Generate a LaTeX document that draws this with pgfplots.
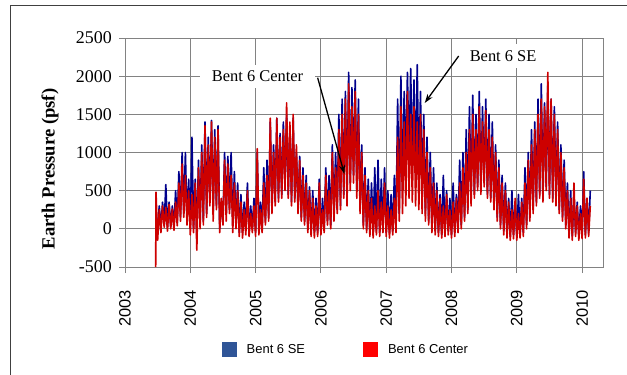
\documentclass[border=0pt]{standalone}
\usepackage{fontspec}
\setmainfont{Liberation Serif}
\newfontfamily\arialfont{Liberation Sans}
\usepackage{pgfplots}
\usepackage{pgfplotstable}
\pgfplotsset{compat=1.18}
\usetikzlibrary{arrows.meta}
\definecolor{seblue}{RGB}{0,0,140}
\definecolor{cenred}{RGB}{205,0,0}
\definecolor{legblue}{RGB}{47,85,151}
\definecolor{legred}{RGB}{255,0,0}
\definecolor{gridgray}{RGB}{130,130,130}
\definecolor{framegray}{RGB}{64,64,64}

\pgfplotstableread[row sep=\\]{x y\\
2003.470 -500\\ 2003.475 480\\ 2003.500 -150\\ 2003.525 250\\ 2003.550 -50\\ 2003.575 300\\ 2003.600 20\\ 2003.625 280\\
2003.650 -30\\ 2003.675 320\\ 2003.700 0\\ 2003.725 260\\ 2003.750 -20\\ 2003.775 350\\ 2003.800 40\\ 2003.825 600\\
2003.850 100\\ 2003.875 850\\ 2003.900 150\\ 2003.925 700\\ 2003.950 50\\ 2003.975 500\\ 2004.000 -80\\ 2004.025 450\\
2004.050 -50\\ 2004.075 600\\ 2004.100 -280\\ 2004.125 800\\ 2004.150 0\\ 2004.175 1000\\ 2004.200 50\\ 2004.225 1350\\
2004.250 150\\ 2004.275 1100\\ 2004.300 300\\ 2004.325 1400\\ 2004.350 100\\ 2004.375 1200\\ 2004.400 250\\ 2004.425 1300\\
2004.450 -50\\ 2004.475 400\\ 2004.500 50\\ 2004.525 900\\ 2004.550 100\\ 2004.575 850\\ 2004.600 200\\ 2004.625 700\\
2004.650 -50\\ 2004.675 600\\ 2004.700 0\\ 2004.725 500\\ 2004.750 -100\\ 2004.775 350\\ 2004.800 -120\\ 2004.825 250\\
2004.850 -80\\ 2004.875 500\\ 2004.900 -100\\ 2004.925 200\\ 2004.950 -50\\ 2004.975 300\\ 2005.000 -100\\ 2005.025 1050\\
2005.050 -80\\ 2005.075 250\\ 2005.100 -50\\ 2005.125 600\\ 2005.150 50\\ 2005.175 700\\ 2005.200 100\\ 2005.225 1450\\
2005.250 200\\ 2005.275 1000\\ 2005.300 300\\ 2005.325 1450\\ 2005.350 350\\ 2005.375 1200\\ 2005.400 400\\ 2005.425 1300\\
2005.450 500\\ 2005.475 1650\\ 2005.500 400\\ 2005.525 1400\\ 2005.550 300\\ 2005.575 1500\\ 2005.600 350\\ 2005.625 1100\\
2005.650 200\\ 2005.675 900\\ 2005.700 100\\ 2005.725 700\\ 2005.750 50\\ 2005.775 600\\ 2005.800 -50\\ 2005.825 500\\
2005.850 -100\\ 2005.875 400\\ 2005.900 -120\\ 2005.925 300\\ 2005.950 -100\\ 2005.975 600\\ 2006.000 -80\\ 2006.025 250\\
2006.050 -50\\ 2006.075 700\\ 2006.100 50\\ 2006.125 500\\ 2006.150 0\\ 2006.175 1000\\ 2006.200 100\\ 2006.225 800\\
2006.250 200\\ 2006.275 1300\\ 2006.300 250\\ 2006.325 1500\\ 2006.350 400\\ 2006.375 1700\\ 2006.400 300\\ 2006.425 1900\\
2006.450 500\\ 2006.475 1600\\ 2006.500 600\\ 2006.525 1800\\ 2006.550 400\\ 2006.575 1500\\ 2006.600 200\\ 2006.625 1000\\
2006.650 0\\ 2006.675 700\\ 2006.700 -50\\ 2006.725 500\\ 2006.750 -100\\ 2006.775 400\\ 2006.800 -120\\ 2006.825 300\\
2006.850 -80\\ 2006.875 500\\ 2006.900 -100\\ 2006.925 350\\ 2006.950 -50\\ 2006.975 600\\ 2007.000 -100\\ 2007.025 300\\
2007.050 -120\\ 2007.075 250\\ 2007.100 -80\\ 2007.125 400\\ 2007.150 -50\\ 2007.175 1200\\ 2007.200 100\\ 2007.225 1600\\
2007.250 200\\ 2007.275 1400\\ 2007.300 300\\ 2007.325 1800\\ 2007.350 400\\ 2007.375 1500\\ 2007.400 350\\ 2007.425 1600\\
2007.450 300\\ 2007.475 1400\\ 2007.500 250\\ 2007.525 1500\\ 2007.550 200\\ 2007.575 1300\\ 2007.600 100\\ 2007.625 1000\\
2007.650 50\\ 2007.675 800\\ 2007.700 -50\\ 2007.725 600\\ 2007.750 -80\\ 2007.775 500\\ 2007.800 -100\\ 2007.825 400\\
2007.850 -120\\ 2007.875 300\\ 2007.900 -100\\ 2007.925 450\\ 2007.950 -80\\ 2007.975 250\\ 2008.000 -120\\ 2008.025 350\\
2008.050 -100\\ 2008.075 400\\ 2008.100 -50\\ 2008.125 600\\ 2008.150 0\\ 2008.175 800\\ 2008.200 100\\ 2008.225 1000\\
2008.250 200\\ 2008.275 1300\\ 2008.300 300\\ 2008.325 1500\\ 2008.350 400\\ 2008.375 1300\\ 2008.400 500\\ 2008.425 1600\\
2008.450 450\\ 2008.475 1400\\ 2008.500 550\\ 2008.525 1550\\ 2008.550 400\\ 2008.575 1300\\ 2008.600 350\\ 2008.625 1200\\
2008.650 250\\ 2008.675 1000\\ 2008.700 100\\ 2008.725 800\\ 2008.750 0\\ 2008.775 600\\ 2008.800 -80\\ 2008.825 500\\
2008.850 -120\\ 2008.875 350\\ 2008.900 -150\\ 2008.925 250\\ 2008.950 -130\\ 2008.975 400\\ 2009.000 -150\\ 2009.025 200\\
2009.050 -120\\ 2009.075 350\\ 2009.100 -100\\ 2009.125 600\\ 2009.150 0\\ 2009.175 900\\ 2009.200 100\\ 2009.225 1100\\
2009.250 200\\ 2009.275 1300\\ 2009.300 300\\ 2009.325 1500\\ 2009.350 400\\ 2009.375 1700\\ 2009.400 350\\ 2009.425 1600\\
2009.450 500\\ 2009.475 2050\\ 2009.500 400\\ 2009.525 1700\\ 2009.550 350\\ 2009.575 1500\\ 2009.600 300\\ 2009.625 1300\\
2009.650 200\\ 2009.675 1000\\ 2009.700 100\\ 2009.725 800\\ 2009.750 0\\ 2009.775 500\\ 2009.800 -120\\ 2009.825 400\\
2009.850 -150\\ 2009.875 600\\ 2009.900 -100\\ 2009.925 300\\ 2009.950 -150\\ 2009.975 200\\ 2010.000 -130\\ 2010.025 650\\
2010.050 -120\\ 2010.075 400\\ 2010.100 -100\\ 2010.125 300\\
}\redtab

\pgfplotstableread[row sep=\\]{x y\\
2003.480 -150\\ 2003.500 50\\ 2003.525 300\\ 2003.550 20\\ 2003.575 350\\ 2003.600 50\\ 2003.625 580\\ 2003.650 20\\
2003.675 350\\ 2003.700 30\\ 2003.725 300\\ 2003.750 20\\ 2003.775 500\\ 2003.800 80\\ 2003.825 750\\ 2003.850 150\\
2003.875 1000\\ 2003.900 200\\ 2003.925 1000\\ 2003.950 100\\ 2003.975 650\\ 2004.000 0\\ 2004.025 1200\\ 2004.050 0\\
2004.075 650\\ 2004.100 -100\\ 2004.125 900\\ 2004.150 50\\ 2004.175 1100\\ 2004.200 100\\ 2004.225 1400\\ 2004.250 200\\
2004.275 1200\\ 2004.300 350\\ 2004.325 1420\\ 2004.350 200\\ 2004.375 1300\\ 2004.400 300\\ 2004.425 1350\\ 2004.450 0\\
2004.475 350\\ 2004.500 100\\ 2004.525 1000\\ 2004.550 200\\ 2004.575 950\\ 2004.600 250\\ 2004.625 1000\\ 2004.650 50\\
2004.675 750\\ 2004.700 50\\ 2004.725 600\\ 2004.750 -50\\ 2004.775 450\\ 2004.800 -50\\ 2004.825 350\\ 2004.850 0\\
2004.875 600\\ 2004.900 -50\\ 2004.925 300\\ 2004.950 0\\ 2004.975 400\\ 2005.000 -50\\ 2005.025 1000\\ 2005.050 0\\
2005.075 350\\ 2005.100 0\\ 2005.125 800\\ 2005.150 100\\ 2005.175 900\\ 2005.200 150\\ 2005.225 1400\\ 2005.250 250\\
2005.275 1100\\ 2005.300 350\\ 2005.325 1450\\ 2005.350 400\\ 2005.375 1250\\ 2005.400 450\\ 2005.425 1400\\ 2005.450 550\\
2005.475 1500\\ 2005.500 450\\ 2005.525 1300\\ 2005.550 350\\ 2005.575 1450\\ 2005.600 400\\ 2005.625 1000\\ 2005.650 250\\
2005.675 950\\ 2005.700 150\\ 2005.725 800\\ 2005.750 100\\ 2005.775 700\\ 2005.800 0\\ 2005.825 550\\ 2005.850 -50\\
2005.875 500\\ 2005.900 -50\\ 2005.925 400\\ 2005.950 -50\\ 2005.975 650\\ 2006.000 -30\\ 2006.025 400\\ 2006.050 0\\
2006.075 800\\ 2006.100 100\\ 2006.125 700\\ 2006.150 50\\ 2006.175 1100\\ 2006.200 150\\ 2006.225 1000\\ 2006.250 250\\
2006.275 1500\\ 2006.300 300\\ 2006.325 1700\\ 2006.350 450\\ 2006.375 1800\\ 2006.400 400\\ 2006.425 2050\\ 2006.450 600\\
2006.475 1850\\ 2006.500 700\\ 2006.525 1950\\ 2006.550 500\\ 2006.575 1700\\ 2006.600 250\\ 2006.625 1100\\ 2006.650 50\\
2006.675 800\\ 2006.700 0\\ 2006.725 650\\ 2006.750 -50\\ 2006.775 600\\ 2006.800 -50\\ 2006.825 800\\ 2006.850 -30\\
2006.875 900\\ 2006.900 -50\\ 2006.925 650\\ 2006.950 0\\ 2006.975 800\\ 2007.000 -50\\ 2007.025 500\\ 2007.050 -50\\
2007.075 450\\ 2007.100 -30\\ 2007.125 700\\ 2007.150 0\\ 2007.175 1700\\ 2007.200 200\\ 2007.225 2000\\ 2007.250 500\\
2007.275 1800\\ 2007.300 800\\ 2007.325 2050\\ 2007.350 900\\ 2007.375 2100\\ 2007.400 800\\ 2007.425 1950\\ 2007.450 700\\
2007.475 2150\\ 2007.500 600\\ 2007.525 1800\\ 2007.550 400\\ 2007.575 1500\\ 2007.600 200\\ 2007.625 1200\\ 2007.650 100\\
2007.675 1000\\ 2007.700 0\\ 2007.725 800\\ 2007.750 -30\\ 2007.775 600\\ 2007.800 -50\\ 2007.825 450\\ 2007.850 -80\\
2007.875 700\\ 2007.900 -50\\ 2007.925 500\\ 2007.950 -30\\ 2007.975 400\\ 2008.000 -80\\ 2008.025 600\\ 2008.050 -50\\
2008.075 450\\ 2008.100 0\\ 2008.125 900\\ 2008.150 50\\ 2008.175 1000\\ 2008.200 150\\ 2008.225 1300\\ 2008.250 250\\
2008.275 1600\\ 2008.300 400\\ 2008.325 1750\\ 2008.350 450\\ 2008.375 1500\\ 2008.400 550\\ 2008.425 1800\\ 2008.450 500\\
2008.475 1600\\ 2008.500 600\\ 2008.525 1700\\ 2008.550 450\\ 2008.575 1500\\ 2008.600 400\\ 2008.625 1400\\ 2008.650 300\\
2008.675 1100\\ 2008.700 150\\ 2008.725 900\\ 2008.750 50\\ 2008.775 700\\ 2008.800 -30\\ 2008.825 600\\ 2008.850 -80\\
2008.875 400\\ 2008.900 -100\\ 2008.925 500\\ 2008.950 -80\\ 2008.975 350\\ 2009.000 -100\\ 2009.025 450\\ 2009.050 -80\\
2009.075 400\\ 2009.100 -50\\ 2009.125 800\\ 2009.150 50\\ 2009.175 1000\\ 2009.200 150\\ 2009.225 1300\\ 2009.250 250\\
2009.275 1400\\ 2009.300 350\\ 2009.325 1700\\ 2009.350 450\\ 2009.375 1900\\ 2009.400 400\\ 2009.425 1650\\ 2009.450 550\\
2009.475 1900\\ 2009.500 450\\ 2009.525 1700\\ 2009.550 400\\ 2009.575 1600\\ 2009.600 350\\ 2009.625 1400\\ 2009.650 250\\
2009.675 1100\\ 2009.700 150\\ 2009.725 900\\ 2009.750 50\\ 2009.775 600\\ 2009.800 -80\\ 2009.825 500\\ 2009.850 -100\\
2009.875 450\\ 2009.900 -50\\ 2009.925 350\\ 2009.950 -100\\ 2009.975 300\\ 2010.000 -80\\ 2010.025 750\\ 2010.050 -80\\
2010.075 400\\ 2010.100 -50\\ 2010.125 500\\
}\bluetab

\begin{document}
\begin{tikzpicture}
\useasboundingbox (-125bp,-108bp) rectangle (502bp,267bp);
\begin{axis}[
  at={(0,0)}, anchor=south west,
  scale only axis, width=478bp, height=229bp,
  xmin=2003, xmax=2010.32, ymin=-500, ymax=2500,
  xtick={2003,2004,2005,2006,2007,2008,2009,2010},
  xticklabels={2003,2004,2005,2006,2007,2008,2009,2010},
  ytick={-500,0,500,1000,1500,2000,2500},
  yticklabels={-500,0,500,1000,1500,2000,2500},
  grid=major,
  major grid style={gridgray, line width=0.9bp},
  axis line style={gridgray, line width=0.9bp},
  tick align=outside, tick pos=left, major tick length=6bp,
  major tick style={gridgray, line width=0.9bp},
  yticklabel style={font=\fontsize{18}{20}\selectfont, inner sep=0pt, xshift=-7bp},
  xticklabel style={font=\arialfont\fontsize{16.5}{18}\selectfont, yshift=-17bp, rotate=90, anchor=east, inner sep=0pt},
  ylabel={Earth Pressure (psf)},
  ylabel style={font=\bfseries\fontsize{18.7}{21}\selectfont, at={(axis description cs:-0.157,0.428)}, anchor=center},
  legend columns=2,
  legend style={at={(axis description cs:0.462,-0.362)}, anchor=center, draw=none, fill=none,
    font=\arialfont\fontsize{13}{15}\selectfont,
    /tikz/every odd column/.append style={column sep=8bp},
    /tikz/every even column/.append style={column sep=56bp}},
  legend image code/.code={\path[#1, draw=none] (0bp,-7.5bp) rectangle (15bp,7.5bp);},
]
\addplot[seblue, line width=1.6bp, line join=round, forget plot] table[x=x, y=y] {\bluetab};
\addplot[cenred, line width=1.6bp, line join=round, forget plot] table[x=x, y=y] {\redtab};
\addlegendimage{fill=legblue}
\addlegendentry{Bent 6 SE}
\addlegendimage{fill=legred}
\addlegendentry{Bent 6 Center}
\node[fill=white, inner xsep=12bp, inner ysep=6bp, font=\fontsize{16.5}{18}\selectfont] at (axis cs:2005.03,2000) {Bent 6 Center};
\draw[black, line width=1.3bp, -{Stealth[length=9bp,width=6bp]}] (axis cs:2005.95,1980) -- (axis cs:2006.36,718);
\node[fill=white, inner xsep=12bp, inner ysep=6bp, font=\fontsize{16.5}{18}\selectfont] at (axis cs:2008.79,2264) {Bent 6 SE};
\draw[black, line width=1.3bp, -{Stealth[length=9bp,width=6bp]}] (axis cs:2008.11,2264) -- (axis cs:2007.59,1649);
\end{axis}
\draw[framegray, line width=1bp] (-114bp,-120bp) -- (-114bp,261bp) -- (510bp,261bp);
\end{tikzpicture}
\end{document}
